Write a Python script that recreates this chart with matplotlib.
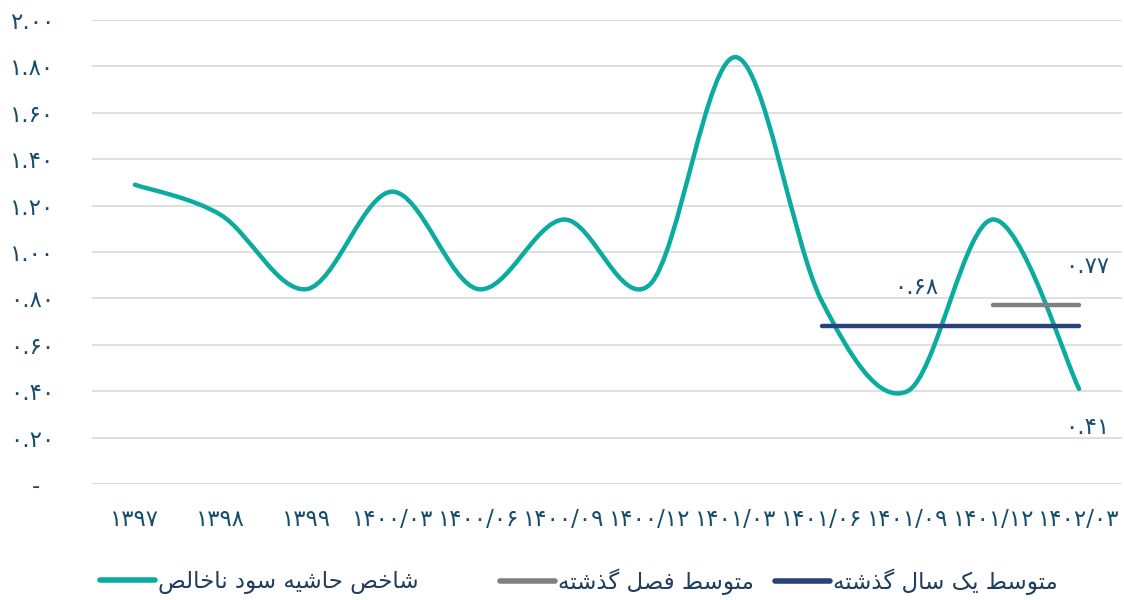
import matplotlib
matplotlib.use("Agg")
import matplotlib.pyplot as plt
from matplotlib.path import Path
from matplotlib.patches import PathPatch
from matplotlib.lines import Line2D

plt.rcParams['font.family'] = ['DejaVu Sans']

periods = ["1397", "1398", "1399", "1400/03", "1400/06", "1400/09", "1400/12",
           "1401/03", "1401/06", "1401/09", "1401/12", "1402/03"]
margin = [1.29, 1.16, 0.84, 1.26, 0.84, 1.14, 0.86, 1.84, 0.79, 0.40, 1.14, 0.41]
avg_year = 0.68
avg_season = 0.77
yticks = [0, 0.2, 0.4, 0.6, 0.8, 1.0, 1.2, 1.4, 1.6, 1.8, 2.0]

name_margin = "شاخص حاشیه سود ناخالص"
name_season = "متوسط فصل گذشته"
name_year = "متوسط یک سال گذشته"

TEAL = "#0aaca0"
GRAY = "#808080"
NAVY = "#2b4279"
TXT = "#154d6a"

fa_digits = str.maketrans("0123456789", "۰۱۲۳۴۵۶۷۸۹")


def fa(s):
    return str(s).translate(fa_digits)


# presentation forms: isolated, final, initial, medial
FORMS = {
    'ا': ('\uFE8D', '\uFE8E', None, None),
    'د': ('\uFEA9', '\uFEAA', None, None),
    'ذ': ('\uFEAB', '\uFEAC', None, None),
    'و': ('\uFEED', '\uFEEE', None, None),
    'ت': ('\uFE95', '\uFE96', '\uFE97', '\uFE98'),
    'ح': ('\uFEA1', '\uFEA2', '\uFEA3', '\uFEA4'),
    'خ': ('\uFEA5', '\uFEA6', '\uFEA7', '\uFEA8'),
    'س': ('\uFEB1', '\uFEB2', '\uFEB3', '\uFEB4'),
    'ش': ('\uFEB5', '\uFEB6', '\uFEB7', '\uFEB8'),
    'ص': ('\uFEB9', '\uFEBA', '\uFEBB', '\uFEBC'),
    'ط': ('\uFEC1', '\uFEC2', '\uFEC3', '\uFEC4'),
    'ف': ('\uFED1', '\uFED2', '\uFED3', '\uFED4'),
    'ل': ('\uFEDD', '\uFEDE', '\uFEDF', '\uFEE0'),
    'م': ('\uFEE1', '\uFEE2', '\uFEE3', '\uFEE4'),
    'ن': ('\uFEE5', '\uFEE6', '\uFEE7', '\uFEE8'),
    'ه': ('\uFEE9', '\uFEEA', '\uFEEB', '\uFEEC'),
    'ی': ('\uFBFC', '\uFBFD', '\uFBFE', '\uFBFF'),
    'ک': ('\uFB8E', '\uFB8F', '\uFB90', '\uFB91'),
    'گ': ('\uFB92', '\uFB93', '\uFB94', '\uFB95'),
}


def rtl(text):
    out = []
    for i, c in enumerate(text):
        if c not in FORMS:
            out.append(c)
            continue
        prev = text[i - 1] if i > 0 else None
        nxt = text[i + 1] if i + 1 < len(text) else None
        jp = prev in FORMS and FORMS[prev][2] is not None
        jn = nxt in FORMS and FORMS[c][2] is not None
        iso, fin, ini, med = FORMS[c]
        if jp and jn:
            out.append(med)
        elif jp:
            out.append(fin)
        elif jn:
            out.append(ini)
        else:
            out.append(iso)
    return "".join(reversed(out))


fig = plt.figure(figsize=(11.24, 6), dpi=100)
ax = fig.add_axes([92 / 1124, 1 - 484 / 600, 1030 / 1124, 464 / 600])

x = list(range(len(periods)))

# smooth line (catmull-rom as cubic bezier)
verts = [(x[0], margin[0])]
codes = [Path.MOVETO]
n = len(x)
for i in range(n - 1):
    p0 = (x[max(i - 1, 0)], margin[max(i - 1, 0)])
    p1 = (x[i], margin[i])
    p2 = (x[i + 1], margin[i + 1])
    p3 = (x[min(i + 2, n - 1)], margin[min(i + 2, n - 1)])
    c1 = (p1[0] + (p2[0] - p0[0]) / 6, p1[1] + (p2[1] - p0[1]) / 6)
    c2 = (p2[0] - (p3[0] - p1[0]) / 6, p2[1] - (p3[1] - p1[1]) / 6)
    verts += [c1, c2, p2]
    codes += [Path.CURVE4] * 3
ax.add_patch(PathPatch(Path(verts, codes), fill=False, edgecolor=TEAL,
                       lw=3.2, capstyle="round", joinstyle="round", zorder=3))

ax.plot([8, 11], [avg_year, avg_year], color=NAVY, lw=3.2,
        solid_capstyle="round", zorder=4)
ax.plot([10, 11], [avg_season, avg_season], color=GRAY, lw=3.2,
        solid_capstyle="round", zorder=4)

ax.annotate(fa(f"{avg_year:.2f}"), (9, avg_year), xytext=(6, 28),
            textcoords="offset points", ha="center", va="center",
            fontsize=16.5, color=TXT)
ax.annotate(fa(f"{avg_season:.2f}"), (11, avg_season), xytext=(6, 28),
            textcoords="offset points", ha="center", va="center",
            fontsize=16.5, color=TXT)
ax.annotate(fa(f"{margin[-1]:.2f}"), (11, margin[-1]), xytext=(6, -28),
            textcoords="offset points", ha="center", va="center",
            fontsize=16.5, color=TXT)

ax.set_xlim(-0.5, len(periods) - 0.5)
ax.set_ylim(0, 2.0)
ax.set_yticks(yticks)
ax.set_yticklabels(["-  " if v == 0 else fa(f"{v:.2f}") for v in yticks])
ax.set_xticks(x)
ax.set_xticklabels([fa(p) for p in periods])
ax.tick_params(axis="y", length=0, pad=27, labelsize=16.5, labelcolor=TXT)
ax.tick_params(axis="x", length=0, pad=17, labelsize=16.5, labelcolor=TXT)
ax.grid(axis="y", color="#d9d9d9", lw=1.2)
ax.set_axisbelow(True)
for s in ax.spines.values():
    s.set_visible(False)

entries = [(TEAL, name_margin, 100), (GRAY, name_season, 500), (NAVY, name_year, 775)]
for col, name, px in entries:
    h = Line2D([], [], color=col, lw=4, solid_capstyle="round")
    leg = fig.legend([h], [rtl(name)], loc="center left",
                     bbox_to_anchor=(px / 1124, 0.03), frameon=False,
                     fontsize=16.5, handlelength=2.4, handletextpad=0.15,
                     borderpad=0, borderaxespad=0)
    leg.get_texts()[0].set_color("#1f3d5c")

fig.savefig("out.png", dpi=100)
